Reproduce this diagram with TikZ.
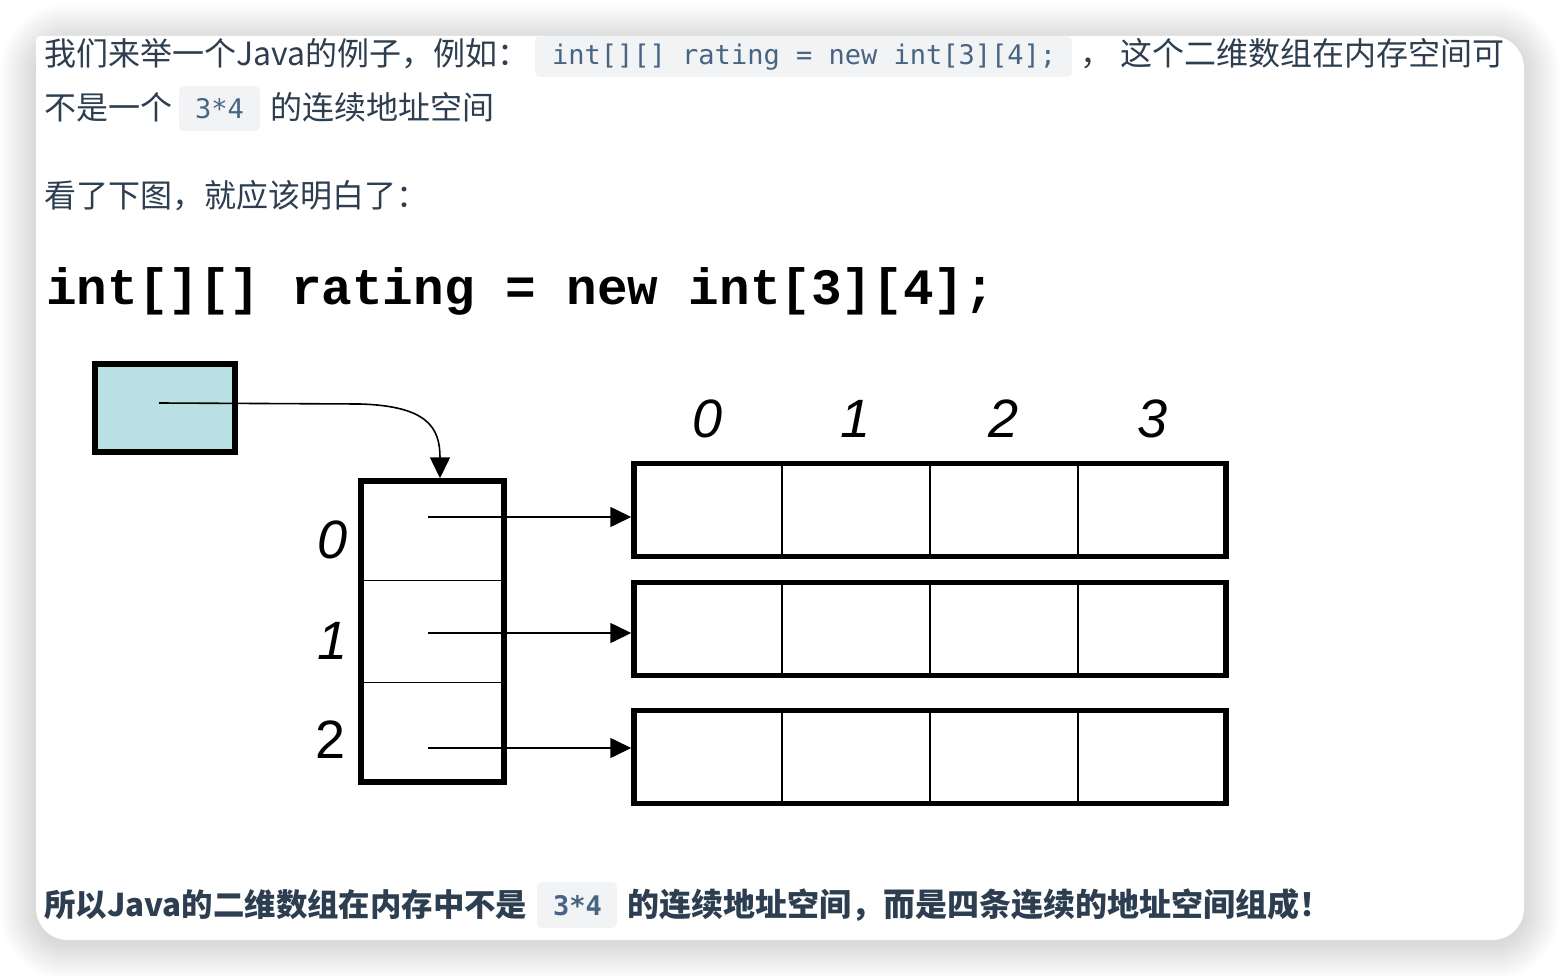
\documentclass[tikz,border=0pt]{standalone}
\usepackage{fontspec}
\setmainfont{Noto Sans CJK SC}
\newfontfamily\chipfont{DejaVu Sans Mono}
\newfontfamily\declfont{Liberation Mono}
\newfontfamily\idxfont{Liberation Sans}
\usetikzlibrary{arrows.meta,calc,positioning}

\definecolor{inktext}{RGB}{44,62,80}
\definecolor{chiptext}{RGB}{71,101,130}
\definecolor{chipbg}{RGB}{241,243,245}
\definecolor{reffill}{RGB}{185,224,227}

\newcommand\bodysize{\fontsize{32pt}{38pt}\selectfont}
\newcommand\chipsize{\fontsize{27pt}{32pt}\selectfont}
\newcommand\idxsize{\fontsize{54pt}{60pt}\selectfont}

\tikzset{
  para/.style={anchor=base west, inner sep=0pt, text=inktext, font=\bodysize},
  chip/.style={fill=chipbg, rounded corners=5pt, inner sep=0pt},
  chiplabel/.style={anchor=base west, inner sep=0pt, text=chiptext, font=\chipfont\chipsize},
  refbox/.style={draw, line width=6pt, fill=reffill, minimum width=140pt, minimum height=88pt, inner sep=0pt},
  colbox/.style={draw, line width=5.5pt, minimum width=143pt, minimum height=301pt, inner sep=0pt},
  rowbox/.style={draw, line width=5.5pt, minimum width=592pt, minimum height=93pt, inner sep=0pt},
  cellline/.style={line width=1.6pt},
  ptr/.style={line width=1.6pt, -{Triangle[length=21pt,width=20pt]}},
  idx/.style={font=\idxfont\idxsize\itshape, inner sep=0pt},
}

\begin{document}
\begin{tikzpicture}[x=1pt,y=-1pt]

\useasboundingbox (0,0) rectangle (1560,976);
\fill[white] (0,0) rectangle (1560,976);

% card shadow and card
\foreach \s in {1,...,18} {
  \pgfmathsetmacro\sp{2*\s}
  \pgfmathsetmacro\rc{32+2*\s}
  \fill[black, opacity=0.0065, rounded corners=\rc pt] (36-\sp,40-\sp) rectangle (1524+\sp,944+\sp);
}
\fill[white, rounded corners=32pt] (36,36) rectangle (1524,940);
\fill[white, rounded corners=4pt] (36,36) rectangle (120,120);

% text above
\node[para] (intro) at (44,66) {我们来举一个Java的例子，例如：};
\node[chip, minimum width=537pt, minimum height=41pt] (chipdecl) at (803.5,56.5) {};
\node[chiplabel] (chipdecltext) at (552,65) {int[][] rating = new int[3][4];};
\node[para] (comma) at (1080,66) {，};
\node[para] (introend) at (1120,66) {这个二维数组在内存空间可};

\node[para] (introcont) at (44,120) {不是一个};
\node[chip, minimum width=81pt, minimum height=45pt] (chipdim) at (219.5,108.5) {};
\node[chiplabel] (chipdimtext) at (195,119) {3*4};
\node[para] (introtail) at (270,120) {的连续地址空间};

\node[para] (hint) at (44,208) {看了下图，就应该明白了：};

% declaration
\node[anchor=base west, inner sep=0pt, font=\declfont\bfseries\fontsize{51pt}{60pt}\selectfont] (decl) at (46,305) {int[][] rating = new int[3][4];};

% reference variable
\node[refbox] (ref) at (165,408) {};
\coordinate (refdot) at (159,403);

% outer array
\node[colbox] (col) at (432.5,631.5) {};
\draw[cellline] ($(col.north west)!1/3!(col.south west)$) -- ($(col.north east)!1/3!(col.south east)$);
\draw[cellline] ($(col.north west)!2/3!(col.south west)$) -- ($(col.north east)!2/3!(col.south east)$);

\draw[ptr] (refdot) -- (360,404) .. controls (428,406) and (440,428) .. ([xshift=7.5pt]col.north);

\node[idx] (r0) at (333,540) {0};
\node[idx] (r1) at (333,641) {1};
\node[idx, font=\idxfont\idxsize] (r2) at (331,740) {2};

% inner arrays
\node[rowbox] (row0) at (930,510) {};
\node[rowbox] (row1) at (930,629) {};
\node[rowbox] (row2) at (930,757) {};
\foreach \r in {0,1,2}
  \foreach \k in {1,2,3}
    \draw[cellline] ([xshift=\k*148pt+2.75pt]row\r.north west) -- ([xshift=\k*148pt+2.75pt]row\r.south west);

\node[idx] (c0) at (708,419) {0};
\node[idx] (c1) at (856,419) {1};
\node[idx] (c2) at (1004,419) {2};
\node[idx] (c3) at (1152,419) {3};

\coordinate (slot0) at (428,517);
\coordinate (slot1) at (428,633);
\coordinate (slot2) at (428,748);
\draw[ptr] (slot0) -- (slot0 -| row0.west);
\draw[ptr] (slot1) -- (slot1 -| row1.west);
\draw[ptr] (slot2) -- (slot2 -| row2.west);

% text below
\node[para, font=\fontsize{31.4pt}{38pt}\selectfont\bfseries] (concl) at (44,916) {所以Java的二维数组在内存中不是};
\node[chip, minimum width=80pt, minimum height=46pt] (chipdim2) at (577,905) {};
\node[chiplabel, font=\chipfont\chipsize\bfseries] (chipdim2text) at (553,915) {3*4};
\node[para, font=\bodysize\bfseries] (concltail) at (627,916) {的连续地址空间，而是四条连续的地址空间组成！};

\end{tikzpicture}
\end{document}
